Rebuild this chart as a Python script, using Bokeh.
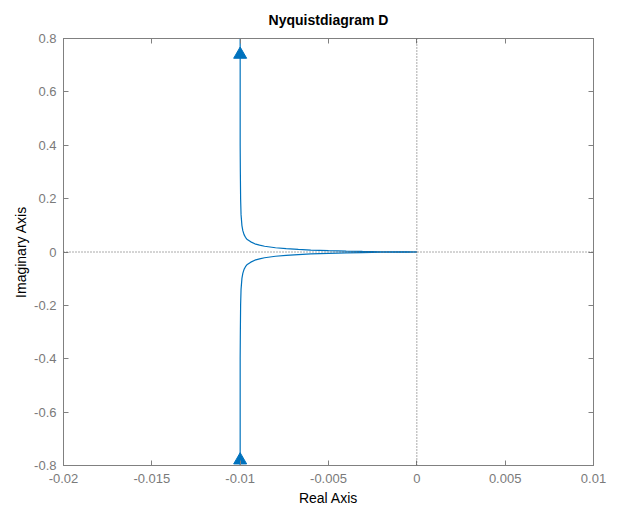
from bokeh.plotting import figure
from bokeh.models import Span, FixedTicker, LinearAxis, Range1d
from bokeh.embed import file_html
from bokeh.resources import INLINE

# Nyquist curve points (upper branch, then lower branch)
real_upper = [-0.0100, -0.0100, -0.0100, -0.00999, -0.009975, -0.00995, -0.0099, -0.00985,
              -0.00978, -0.0097, -0.00962, -0.0094, -0.00917, -0.0089, -0.00862, -0.0080,
              -0.0074, -0.00671, -0.0060, -0.0050, -0.0040, -0.00308, -0.0020, -0.0010,
              -0.0005, -0.00027, -0.0001, 0.0]
imag_upper = [0.80, 0.60, 0.40, 0.30, 0.1995, 0.14, 0.099, 0.080,
              0.0652, 0.055, 0.0481, 0.038, 0.0306, 0.026, 0.0216, 0.0160,
              0.0125, 0.0096, 0.0073, 0.0050, 0.0033, 0.00205, 0.0010, 0.00033,
              0.00012, 0.000045, 0.00001, 0.0]
real_lower = [-0.0100, -0.0100, -0.0100, -0.00999, -0.009975, -0.00995, -0.0099, -0.00985,
              -0.00978, -0.0097, -0.00962, -0.0094, -0.00917, -0.0089, -0.00862, -0.0080,
              -0.0074, -0.00671, -0.0060, -0.0050, -0.0040, -0.00308, -0.0020, -0.0010,
              -0.0005, -0.00027, -0.0001, 0.0]
imag_lower = [-0.80, -0.60, -0.40, -0.30, -0.1995, -0.14, -0.099, -0.080,
              -0.0652, -0.055, -0.0481, -0.038, -0.0306, -0.026, -0.0216, -0.0160,
              -0.0125, -0.0096, -0.0073, -0.0050, -0.0033, -0.00205, -0.0010, -0.00033,
              -0.00012, -0.000045, -0.00001, 0.0]

# direction arrows
arrow_x = [-0.0100, -0.0100]
arrow_y = [0.74, -0.78]

x_ticks = [-0.02, -0.015, -0.01, -0.005, 0.0, 0.005, 0.01]
x_tick_labels = ["-0.02", "-0.015", "-0.01", "-0.005", "0", "0.005", "0.01"]
y_ticks = [-0.8, -0.6, -0.4, -0.2, 0.0, 0.2, 0.4, 0.6, 0.8]
y_tick_labels = ["-0.8", "-0.6", "-0.4", "-0.2", "0", "0.2", "0.4", "0.6", "0.8"]

FONT = "Liberation Sans"
LINE = "#0072BD"
AXC = "#808080"
TICKC = "#7a7a7a"

p = figure(width=625, height=514, output_backend="svg", toolbar_location=None,
           x_range=Range1d(-0.02, 0.01), y_range=Range1d(-0.8, 0.8),
           min_border_left=63, min_border_right=32, min_border_top=38, min_border_bottom=49,
           x_axis_location=None, y_axis_location=None)

p.title.text = "Nyquistdiagram D"
p.title.align = "center"
p.title.vertical_align = "top"
p.title.text_font = FONT
p.title.text_font_size = "14px"
p.title.text_font_style = "bold"
p.title.text_color = "#000000"
p.title.standoff = 10
p.title.padding = 4

p.grid.visible = False
p.outline_line_color = AXC
p.outline_line_width = 1
p.background_fill_color = "white"
p.border_fill_color = "white"

def style_axis(ax, ticks, show_labels, labels=None):
    ax.ticker = FixedTicker(ticks=ticks)
    ax.major_tick_in = 5
    ax.major_tick_out = 0
    ax.minor_tick_line_color = None
    ax.axis_line_color = AXC
    ax.major_tick_line_color = AXC
    ax.major_label_text_font = FONT
    ax.major_label_text_font_size = "13px"
    ax.major_label_text_color = TICKC
    ax.axis_label_text_font = FONT
    ax.axis_label_text_font_size = "14px"
    ax.axis_label_text_font_style = "normal"
    ax.axis_label_text_color = "#000000"
    if show_labels:
        ax.major_label_overrides = {t: l for t, l in zip(ticks, labels)}
    else:
        ax.major_label_text_color = None
        ax.major_label_text_font_size = "1px"
        ax.major_label_standoff = 0

xb = LinearAxis(axis_label="Real Axis")
style_axis(xb, x_ticks, True, x_tick_labels)
xb.major_label_standoff = 8
xb.axis_label_standoff = 4
p.add_layout(xb, "below")

yl = LinearAxis(axis_label="Imaginary Axis")
style_axis(yl, y_ticks, True, y_tick_labels)
yl.major_label_standoff = 7
yl.axis_label_standoff = 2
p.add_layout(yl, "left")

xt = LinearAxis()
style_axis(xt, x_ticks, False)
p.add_layout(xt, "above")

yr = LinearAxis()
style_axis(yr, y_ticks, False)
p.add_layout(yr, "right")

p.add_layout(Span(location=0, dimension="width", line_color="#555555",
                  line_dash="1 2", line_width=1))
p.add_layout(Span(location=0, dimension="height", line_color="#555555",
                  line_dash="1 2", line_width=1))

p.line(real_upper, imag_upper, line_color=LINE, line_width=1.2)
p.line(real_lower, imag_lower, line_color=LINE, line_width=1.2)
p.scatter(arrow_x, arrow_y, marker="triangle", size=13, fill_color=LINE,
          line_color=LINE)

open("out.html", "w").write(file_html(p, INLINE))
